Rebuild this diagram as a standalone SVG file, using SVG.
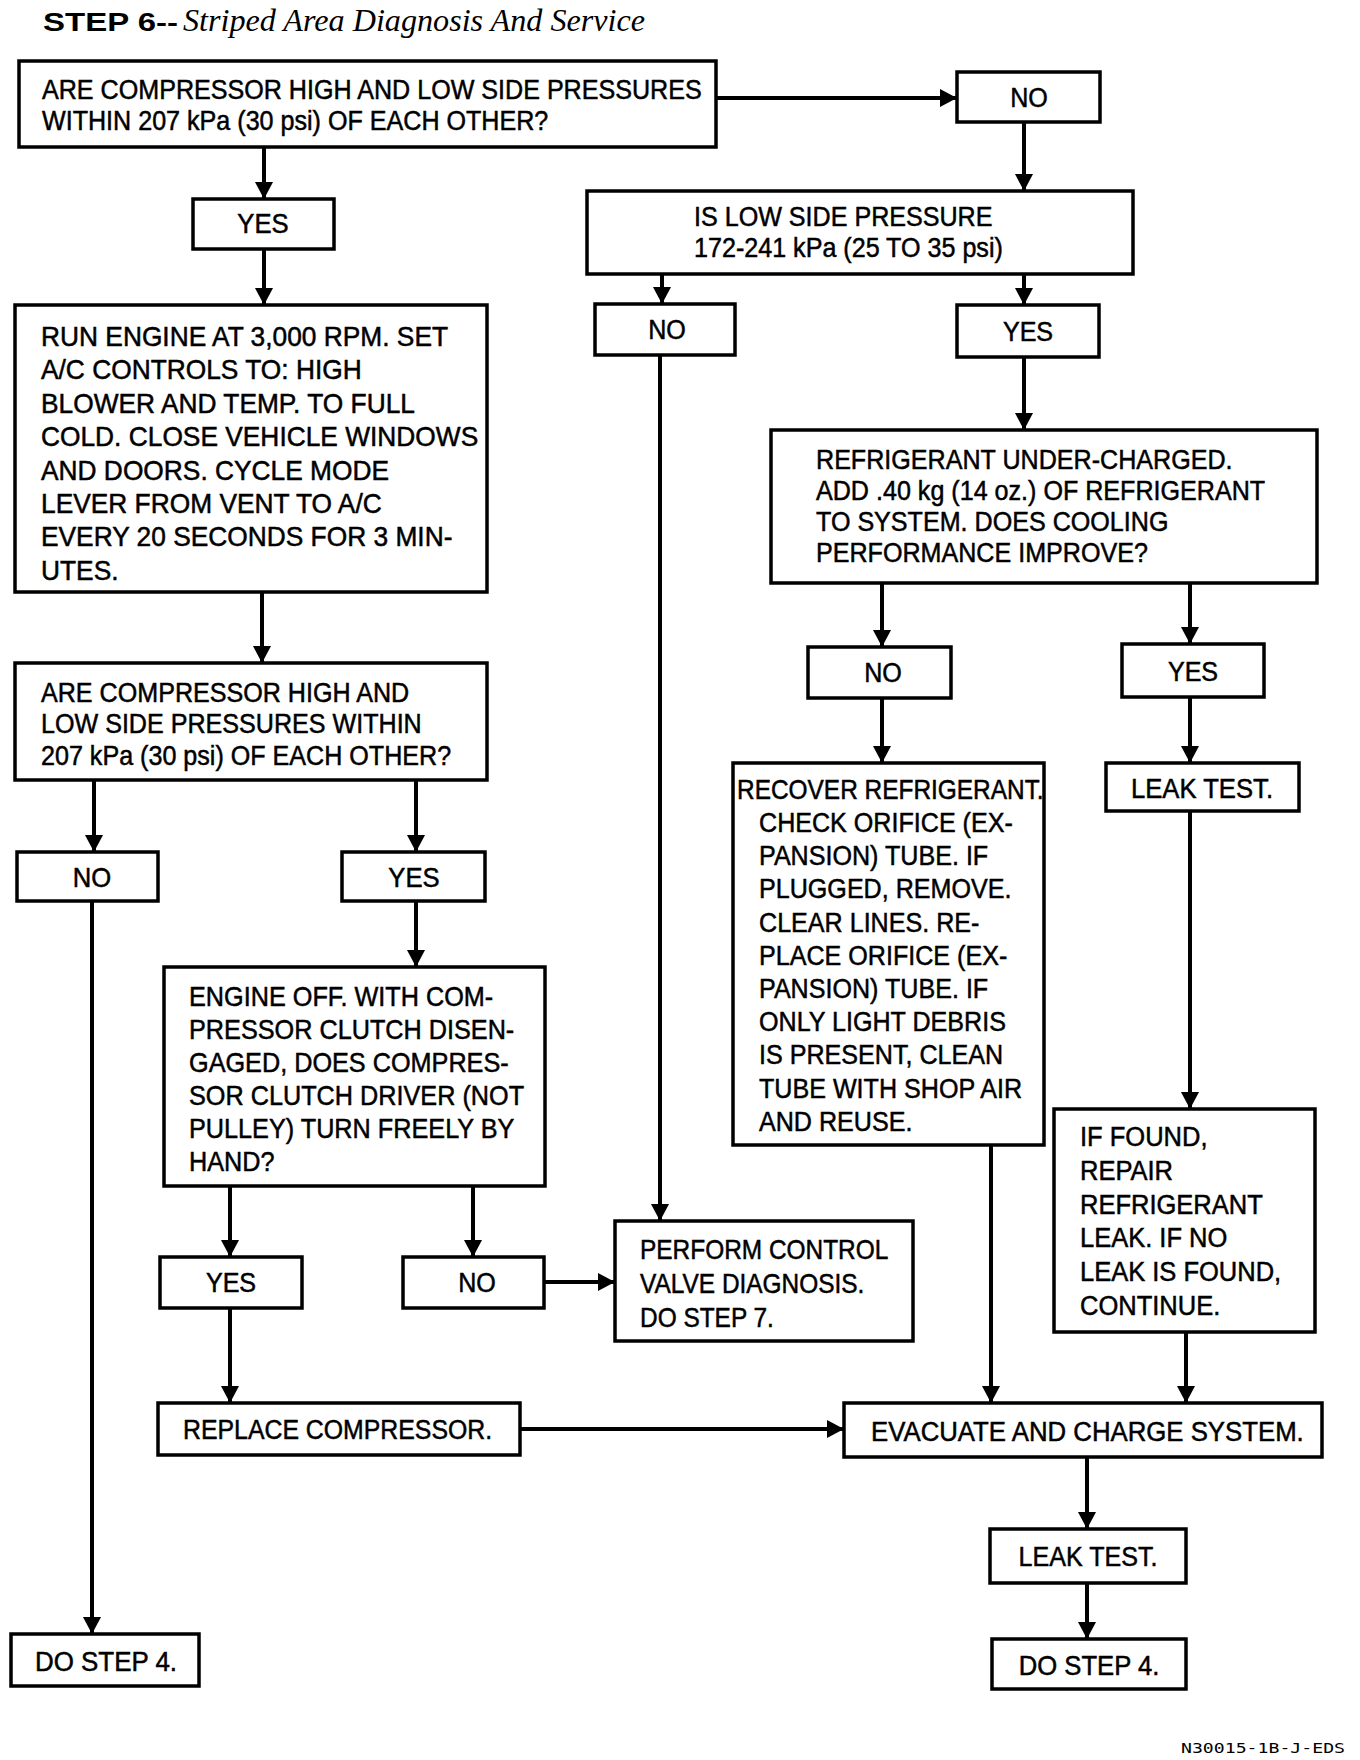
<svg xmlns="http://www.w3.org/2000/svg" width="1360" height="1760" viewBox="0 0 1360 1760">
<style>
.b{fill:#fff;stroke:#000;stroke-width:3.5}
.t{font-family:"Liberation Sans",Arial,sans-serif;font-size:27px;fill:#000;stroke:#000;stroke-width:0.5}
.m{text-anchor:middle}
.ln{stroke:#000;stroke-width:4;fill:none;marker-end:url(#ah)}
</style>
<defs>
<marker id="ah" markerUnits="userSpaceOnUse" markerWidth="18" markerHeight="18" refX="17" refY="9" orient="auto">
<path d="M0,0 L17,9 L0,18 z" fill="#000"/>
</marker>
</defs>
<rect width="1360" height="1760" fill="#fff"/>
<g id="title">
<text x="43" y="31" font-family="Liberation Sans,Arial,sans-serif" font-weight="bold" font-size="26" textLength="135" lengthAdjust="spacingAndGlyphs">STEP 6--</text>
<text x="183" y="31" font-family="Liberation Serif,Times New Roman,serif" font-style="italic" font-size="31" textLength="462" lengthAdjust="spacingAndGlyphs">Striped Area Diagnosis And Service</text>
</g>
<g id="nodes">
<g id="n1"><rect class="b" x="19" y="61" width="697" height="86"/>
<text class="t" transform="translate(42,99) scale(0.93,1)"><tspan x="0">ARE COMPRESSOR HIGH AND LOW SIDE PRESSURES</tspan><tspan x="0" dy="31">WITHIN 207 kPa (30 psi) OF EACH OTHER?</tspan></text></g>
<g id="n2"><rect class="b" x="957" y="72" width="143" height="50"/>
<text class="t m" transform="translate(1029,107) scale(0.93,1)">NO</text></g>
<g id="n3"><rect class="b" x="587" y="191" width="546" height="83"/>
<text class="t" transform="translate(694,226) scale(0.93,1)"><tspan x="0">IS LOW SIDE PRESSURE</tspan><tspan x="0" dy="31">172-241 kPa (25 TO 35 psi)</tspan></text></g>
<g id="n4"><rect class="b" x="595" y="304" width="140" height="51"/>
<text class="t m" transform="translate(667,339) scale(0.93,1)">NO</text></g>
<g id="n5"><rect class="b" x="957" y="305" width="142" height="52"/>
<text class="t m" transform="translate(1028,341) scale(0.93,1)">YES</text></g>
<g id="n6"><rect class="b" x="771" y="430" width="546" height="153"/>
<text class="t" transform="translate(816,469) scale(0.93,1)"><tspan x="0">REFRIGERANT UNDER-CHARGED.</tspan><tspan x="0" dy="31">ADD .40 kg (14 oz.) OF REFRIGERANT</tspan><tspan x="0" dy="31">TO SYSTEM. DOES COOLING</tspan><tspan x="0" dy="31">PERFORMANCE IMPROVE?</tspan></text></g>
<g id="n7"><rect class="b" x="808" y="647" width="143" height="51"/>
<text class="t m" transform="translate(883,682) scale(0.93,1)">NO</text></g>
<g id="n8"><rect class="b" x="1122" y="644" width="142" height="53"/>
<text class="t m" transform="translate(1193,681) scale(0.93,1)">YES</text></g>
<g id="n9"><rect class="b" x="733" y="763" width="311" height="382"/>
<text class="t" transform="translate(737,799) scale(0.905,1)">RECOVER REFRIGERANT.</text>
<text class="t" transform="translate(759,832) scale(0.93,1)"><tspan x="0">CHECK ORIFICE (EX-</tspan><tspan x="0" dy="33.2">PANSION) TUBE. IF</tspan><tspan x="0" dy="33.2">PLUGGED, REMOVE.</tspan><tspan x="0" dy="33.2">CLEAR LINES. RE-</tspan><tspan x="0" dy="33.2">PLACE ORIFICE (EX-</tspan><tspan x="0" dy="33.2">PANSION) TUBE. IF</tspan><tspan x="0" dy="33.2">ONLY LIGHT DEBRIS</tspan><tspan x="0" dy="33.2">IS PRESENT, CLEAN</tspan><tspan x="0" dy="33.2">TUBE WITH SHOP AIR</tspan><tspan x="0" dy="33.2">AND REUSE.</tspan></text></g>
<g id="n10"><rect class="b" x="1106" y="763" width="193" height="48"/>
<text class="t m" transform="translate(1202,798) scale(0.95,1)">LEAK TEST.</text></g>
<g id="n11"><rect class="b" x="1054" y="1109" width="261" height="223"/>
<text class="t" transform="translate(1080,1146) scale(0.945,1)"><tspan x="0">IF FOUND,</tspan><tspan x="0" dy="33.8">REPAIR</tspan><tspan x="0" dy="33.8">REFRIGERANT</tspan><tspan x="0" dy="33.8">LEAK. IF NO</tspan><tspan x="0" dy="33.8">LEAK IS FOUND,</tspan><tspan x="0" dy="33.8">CONTINUE.</tspan></text></g>
<g id="n12"><rect class="b" x="193" y="199" width="141" height="50"/>
<text class="t m" transform="translate(263,233) scale(0.95,1)">YES</text></g>
<g id="n13"><rect class="b" x="15" y="305" width="472" height="287"/>
<text class="t" transform="translate(41,346) scale(0.975,1)"><tspan x="0">RUN ENGINE AT 3,000 RPM. SET</tspan><tspan x="0" dy="33.4">A/C CONTROLS TO: HIGH</tspan><tspan x="0" dy="33.4">BLOWER AND TEMP. TO FULL</tspan><tspan x="0" dy="33.4">COLD. CLOSE VEHICLE WINDOWS</tspan><tspan x="0" dy="33.4">AND DOORS. CYCLE MODE</tspan><tspan x="0" dy="33.4">LEVER FROM VENT TO A/C</tspan><tspan x="0" dy="33.4">EVERY 20 SECONDS FOR 3 MIN-</tspan><tspan x="0" dy="33.4">UTES.</tspan></text></g>
<g id="n14"><rect class="b" x="15" y="663" width="472" height="117"/>
<text class="t" transform="translate(41,702) scale(0.93,1)"><tspan x="0">ARE COMPRESSOR HIGH AND</tspan><tspan x="0" dy="31.5">LOW SIDE PRESSURES WITHIN</tspan><tspan x="0" dy="31.5">207 kPa (30 psi) OF EACH OTHER?</tspan></text></g>
<g id="n15"><rect class="b" x="17" y="852" width="141" height="49"/>
<text class="t m" transform="translate(92,887) scale(0.95,1)">NO</text></g>
<g id="n16"><rect class="b" x="342" y="852" width="143" height="49"/>
<text class="t m" transform="translate(414,887) scale(0.95,1)">YES</text></g>
<g id="n17"><rect class="b" x="164" y="967" width="381" height="219"/>
<text class="t" transform="translate(189,1006) scale(0.935,1)"><tspan x="0">ENGINE OFF. WITH COM-</tspan><tspan x="0" dy="33">PRESSOR CLUTCH DISEN-</tspan><tspan x="0" dy="33">GAGED, DOES COMPRES-</tspan><tspan x="0" dy="33">SOR CLUTCH DRIVER (NOT</tspan><tspan x="0" dy="33">PULLEY) TURN FREELY BY</tspan><tspan x="0" dy="33">HAND?</tspan></text></g>
<g id="n18"><rect class="b" x="160" y="1257" width="142" height="51"/>
<text class="t m" transform="translate(231,1292) scale(0.93,1)">YES</text></g>
<g id="n19"><rect class="b" x="403" y="1257" width="141" height="51"/>
<text class="t m" transform="translate(477,1292) scale(0.93,1)">NO</text></g>
<g id="n20"><rect class="b" x="615" y="1221" width="298" height="120"/>
<text class="t" transform="translate(640,1259) scale(0.905,1)"><tspan x="0">PERFORM CONTROL</tspan><tspan x="0" dy="34">VALVE DIAGNOSIS.</tspan><tspan x="0" dy="34">DO STEP 7.</tspan></text></g>
<g id="n21"><rect class="b" x="158" y="1403" width="362" height="52"/>
<text class="t" transform="translate(183,1439) scale(0.92,1)">REPLACE COMPRESSOR.</text></g>
<g id="n22"><rect class="b" x="844" y="1403" width="478" height="54"/>
<text class="t" transform="translate(871,1441) scale(0.955,1)">EVACUATE AND CHARGE SYSTEM.</text></g>
<g id="n23"><rect class="b" x="990" y="1529" width="196" height="54"/>
<text class="t m" transform="translate(1088,1566) scale(0.93,1)">LEAK TEST.</text></g>
<g id="n24"><rect class="b" x="992" y="1639" width="194" height="50"/>
<text class="t m" transform="translate(1089,1675) scale(0.95,1)">DO STEP 4.</text></g>
<g id="n25"><rect class="b" x="11" y="1634" width="188" height="52"/>
<text class="t" transform="translate(35,1671) scale(0.96,1)">DO STEP 4.</text></g>
</g>
<g id="connectors">
<path class="ln" d="M716,98 H957"/>
<path class="ln" d="M1024,122 V191"/>
<path class="ln" d="M264,147 V199"/>
<path class="ln" d="M264,249 V305"/>
<path class="ln" d="M662,274 V304"/>
<path class="ln" d="M1024,274 V305"/>
<path class="ln" d="M660,355 V1221"/>
<path class="ln" d="M1024,357 V430"/>
<path class="ln" d="M882,583 V647"/>
<path class="ln" d="M1190,583 V644"/>
<path class="ln" d="M882,698 V763"/>
<path class="ln" d="M1190,697 V763"/>
<path class="ln" d="M1190,811 V1109"/>
<path class="ln" d="M991,1145 V1403"/>
<path class="ln" d="M1186,1332 V1403"/>
<path class="ln" d="M262,592 V663"/>
<path class="ln" d="M94,780 V852"/>
<path class="ln" d="M416,780 V852"/>
<path class="ln" d="M92,901 V1634"/>
<path class="ln" d="M416,901 V967"/>
<path class="ln" d="M230,1186 V1257"/>
<path class="ln" d="M473,1186 V1257"/>
<path class="ln" d="M544,1282 H615"/>
<path class="ln" d="M230,1308 V1403"/>
<path class="ln" d="M520,1429 H844"/>
<path class="ln" d="M1087,1457 V1529"/>
<path class="ln" d="M1087,1583 V1639"/>
</g>
<text id="footer" x="1181" y="1753" font-family="DejaVu Sans Mono,Liberation Mono,monospace" font-size="14" textLength="164" lengthAdjust="spacingAndGlyphs">N30015-1B-J-EDS</text>
</svg>
